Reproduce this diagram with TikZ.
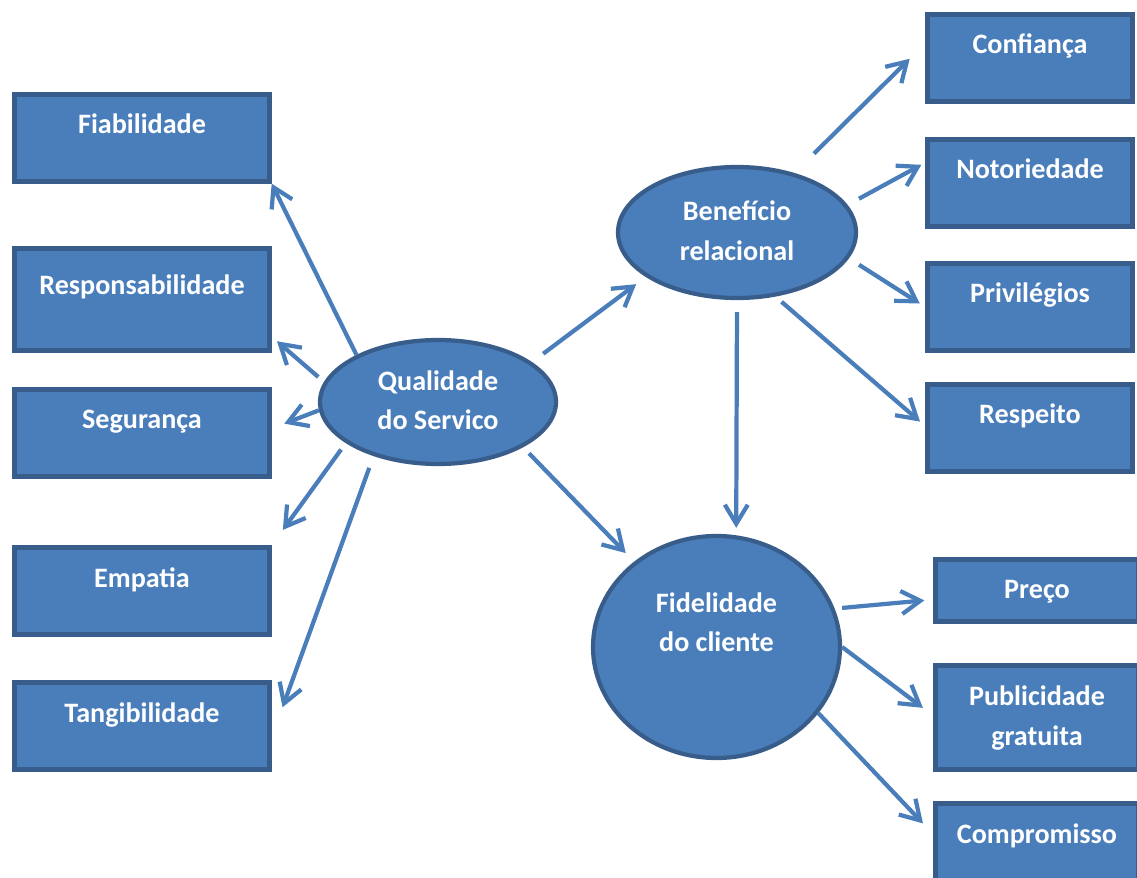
\documentclass[tikz,border=0pt]{standalone}
\usepackage{fontspec}
\setmainfont{Carlito}
\usetikzlibrary{shapes.geometric, arrows.meta}
\definecolor{azul}{HTML}{4A7EBB}
\definecolor{borda}{HTML}{385D8A}

\begin{document}
\begin{tikzpicture}[
    caixa/.style={draw=borda, fill=azul, line width=2.5pt, minimum width=5.1cm, minimum height=1.74cm, inner ysep=0pt, text height=0.79cm, text depth=0.95cm},
    elipse/.style={ellipse, draw=borda, fill=azul, line width=2.4pt, inner sep=0pt},
    seta/.style={-{Straight Barb[length=3.8mm,width=4.6mm]}, line width=2.4pt, azul},
    every node/.style={text=white, font=\fontsize{16}{22.7}\selectfont\bfseries}
]
    \useasboundingbox (0,0) rectangle (22.74,-17.56);

    % dimensoes da qualidade
    \node[caixa] (fiab) at (2.84,-2.76) {Fiabilidade};
    \node[caixa, minimum height=2.04cm, text height=0.93cm, text depth=1.11cm] (resp) at (2.84,-5.99) {Responsabilidade};
    \node[caixa] (segu) at (2.84,-8.66) {Segurança};
    \node[caixa] (empa) at (2.84,-11.82) {Empatia};
    \node[caixa] (tang) at (2.84,-14.52) {Tangibilidade};

    % conceitos centrais
    \node[elipse, minimum width=4.72cm, minimum height=2.48cm] (qual) at (8.76,-8.04) {
        \begin{tabular}{@{}c@{}}
            Qualidade \\
            do Servico
        \end{tabular}
    };
    \node[elipse, minimum width=4.76cm, minimum height=2.62cm] (bene) at (14.74,-4.65) {
        \begin{tabular}{@{}c@{}}
            Benefício \\
            relacional
        \end{tabular}
    };
    \node[elipse, minimum width=4.94cm, minimum height=4.44cm] (fide) at (14.33,-12.94) {
        \begin{tabular}{@{}c@{}}
            Fidelidade \\
            do cliente \\[0.92cm]
        \end{tabular}
    };

    % beneficios relacionais
    \node[caixa, minimum width=4.1cm] (conf) at (20.6,-1.16) {Confiança};
    \node[caixa, minimum width=4.1cm] (noto) at (20.6,-3.66) {Notoriedade};
    \node[caixa, minimum width=4.1cm] (priv) at (20.6,-6.14) {Privilégios};
    \node[caixa, minimum width=4.1cm] (respe) at (20.6,-8.56) {Respeito};

    % fidelidade
    \node[caixa, minimum width=4.06cm, minimum height=1.24cm, text height=0.77cm, text depth=0.47cm] (preco) at (20.74,-11.81) {Preço};
    \node[caixa, minimum width=4.06cm, minimum height=2.08cm, text height={}, text depth={}] (publ) at (20.74,-14.35) {
        \begin{tabular}{@{}c@{}}
            Publicidade \\
            gratuita
        \end{tabular}
    };
    \node[caixa, minimum width=4.06cm] (comp) at (20.74,-16.94) {Compromisso};

    % setas
    \draw[seta] (qual.150) -- (fiab.south east);
    \draw[seta, shorten <=0.15cm, shorten >=0.14cm] (qual.170) -- (resp.-16);
    \draw[seta, shorten >=0.27cm] (qual.184) -- (segu.2);
    \draw[seta, shorten <=0.16cm, shorten >=0.38cm] (qual.204) -- (empa.north east);
    \draw[seta, shorten <=0.25cm, shorten >=0.64cm] (qual.220) -- (tang.-5);
    \draw[seta, shorten <=0.28cm, shorten >=0.24cm] (qual.23) -- (bene.206);
    \draw[seta, shorten <=0.17cm, shorten >=0.24cm] (qual.-28) -- (fide.134);
    \draw[seta, shorten <=0.55cm, shorten >=0.44cm] (bene.46) -- (conf.172);
    \draw[seta, shorten <=0.26cm, shorten >=0.09cm] (bene.14) -- (noto.169);
    \draw[seta, shorten <=0.24cm, shorten >=0.13cm] (bene.-13) -- (priv.west);
    \draw[seta, shorten <=0.16cm, shorten >=0.14cm] (bene.-59) -- (respe.179);
    \draw[seta, shorten <=0.24cm, shorten >=0.15cm] (bene.south) -- (fide.80);
    \draw[seta, shorten <=0.15cm, shorten >=0.18cm] (fide.18) -- (preco.185);
    \draw[seta, shorten >=0.26cm] (fide.east) -- (publ.179);
    \draw[seta, shorten >=0.3cm] (fide.-33) -- (comp.173);
\end{tikzpicture}
\end{document}
